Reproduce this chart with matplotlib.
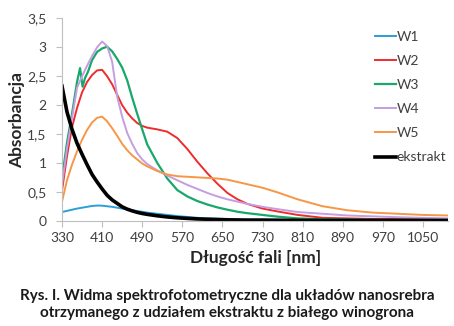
import matplotlib
matplotlib.use("Agg")
from matplotlib import pyplot as plt
from matplotlib.ticker import FuncFormatter

plt.rcParams['font.family'] = ['Lato', 'DejaVu Sans']

# Common wavelength grid [nm]
wl = [330, 340, 350, 360, 370, 380, 390, 400, 410, 420, 430, 440, 450, 460, 470,
      480, 490, 500, 520, 540, 560, 580, 600, 620, 640, 660, 680, 700, 730, 760,
      800, 850, 900, 950, 1000, 1050, 1100]

w1 = [0.15, 0.17, 0.19, 0.21, 0.225, 0.24, 0.255, 0.262, 0.26, 0.25, 0.24, 0.225,
      0.21, 0.195, 0.18, 0.165, 0.155, 0.14, 0.12, 0.10, 0.08, 0.065, 0.05, 0.04,
      0.035, 0.03, 0.025, 0.02, 0.018, 0.015, 0.012, 0.01, 0.01, 0.01, 0.01, 0.01, 0.01]

w2 = [0.52, 1.12, 1.62, 1.95, 2.22, 2.4, 2.52, 2.6, 2.61, 2.5, 2.36, 2.18,
      2.0, 1.87, 1.77, 1.69, 1.64, 1.61, 1.58, 1.54, 1.43, 1.24, 1.02, 0.82,
      0.64, 0.48, 0.37, 0.29, 0.21, 0.16, 0.10, 0.05, 0.04, 0.03, 0.03, 0.03, 0.03]

w4 = [0.62, 1.25, 1.78, 2.3, 2.5, 2.68, 2.85, 3.0, 3.1, 3.02, 2.75, 2.15,
      1.8, 1.52, 1.33, 1.17, 1.06, 0.98, 0.87, 0.78, 0.70, 0.62, 0.55, 0.48,
      0.42, 0.37, 0.33, 0.29, 0.24, 0.20, 0.15, 0.12, 0.09, 0.075, 0.06, 0.05, 0.04]

w5 = [0.33, 0.7, 0.97, 1.2, 1.4, 1.57, 1.7, 1.78, 1.8, 1.72, 1.6, 1.47,
      1.33, 1.22, 1.13, 1.06, 0.99, 0.94, 0.86, 0.80, 0.77, 0.76, 0.75, 0.74,
      0.73, 0.71, 0.67, 0.63, 0.57, 0.49, 0.37, 0.25, 0.18, 0.14, 0.12, 0.10, 0.09]

ekstrakt = [2.33, 1.88, 1.58, 1.34, 1.15, 0.97, 0.8, 0.67, 0.55, 0.44, 0.36, 0.3,
            0.24, 0.2, 0.17, 0.145, 0.125, 0.11, 0.085, 0.065, 0.05, 0.04, 0.03, 0.025,
            0.02, 0.015, 0.012, 0.01, 0.01, 0.008, 0.006, 0.005, 0.005, 0.005, 0.005, 0.005, 0.005]

# W3 has its own grid (small spike near 366 nm)
wl_w3 = [330, 340, 350, 360, 366, 371, 376, 382, 390, 400, 410, 420, 430, 440, 450,
         460, 470, 480, 490, 500, 520, 540, 560, 580, 600, 620, 640, 660, 680, 700,
         730, 760, 800, 850, 900, 950, 1000, 1050, 1100]
w3 = [0.73, 1.35, 1.85, 2.4, 2.64, 2.32, 2.47, 2.58, 2.78, 2.92, 2.98, 3.01, 2.93,
      2.8, 2.65, 2.43, 2.13, 1.85, 1.58, 1.32, 1.0, 0.73, 0.53, 0.42, 0.34, 0.28,
      0.23, 0.19, 0.155, 0.13, 0.1, 0.07, 0.04, 0.025, 0.02, 0.015, 0.015, 0.015, 0.015]

x_ticks = [330, 410, 490, 570, 650, 730, 810, 890, 970, 1050]
y_ticks = [0, 0.5, 1, 1.5, 2, 2.5, 3, 3.5]

W, H = 454, 326
fig = plt.figure(figsize=(W / 100, H / 100), dpi=100)
ax = fig.add_axes([62 / W, 1 - 220.7 / H, (448 - 62) / W, (220.7 - 18.4) / H])

ax.plot(wl, w1, color="#2a9fd8", lw=1.4, label="W1")
ax.plot(wl, w2, color="#ee2c2c", lw=1.4, label="W2")
ax.plot(wl_w3, w3, color="#17a86a", lw=1.6, label="W3")
ax.plot(wl, w4, color="#c49ee0", lw=1.4, label="W4")
ax.plot(wl, w5, color="#f79646", lw=1.4, label="W5")
ax.plot(wl, ekstrakt, color="black", lw=2.6, label="ekstrakt")

ax.set_xlim(330, 1100)
ax.set_ylim(0, 3.5)
ax.set_xticks(x_ticks)
ax.set_yticks(y_ticks)
ax.yaxis.set_major_formatter(FuncFormatter(lambda v, p: f"{v:g}".replace(".", ",")))

for s in ["top", "right"]:
    ax.spines[s].set_visible(False)
for s in ["left", "bottom"]:
    ax.spines[s].set_color("#bfbfbf")
ax.tick_params(axis="both", colors="#bfbfbf", labelcolor="#404040", labelsize=10,
               length=4, width=0.8)
ax.tick_params(axis="x", pad=4)
ax.tick_params(axis="y", pad=7)

leg = ax.legend(loc="upper left", bbox_to_anchor=(368 / W, 1 - 24 / H),
                bbox_transform=fig.transFigure, frameon=False, fontsize=10,
                handlelength=1.55, handletextpad=0.0, labelspacing=0.87, borderpad=0)
for t in leg.get_texts():
    t.set_color("#404040")

fig.text(17 / W, 1 - 120 / H, "Absorbancja", rotation=90, ha="center", va="center",
         fontsize=12.5, fontweight="bold", color="#262626")
fig.text(256 / W, 1 - 258 / H, "Długość fali [nm]", ha="center", va="center",
         fontsize=12.5, fontweight="bold", color="#262626")

fig.text(227 / W, 1 - 296 / H, "Rys. I. Widma spektrofotometryczne dla układów nanosrebra",
         ha="center", va="center", fontsize=11, fontweight="bold", color="#1a1a1a")
fig.text(227 / W, 1 - 313 / H, "otrzymanego z udziałem ekstraktu z białego winogrona",
         ha="center", va="center", fontsize=11, fontweight="bold", color="#1a1a1a")

fig.savefig("out.png", dpi=100)
